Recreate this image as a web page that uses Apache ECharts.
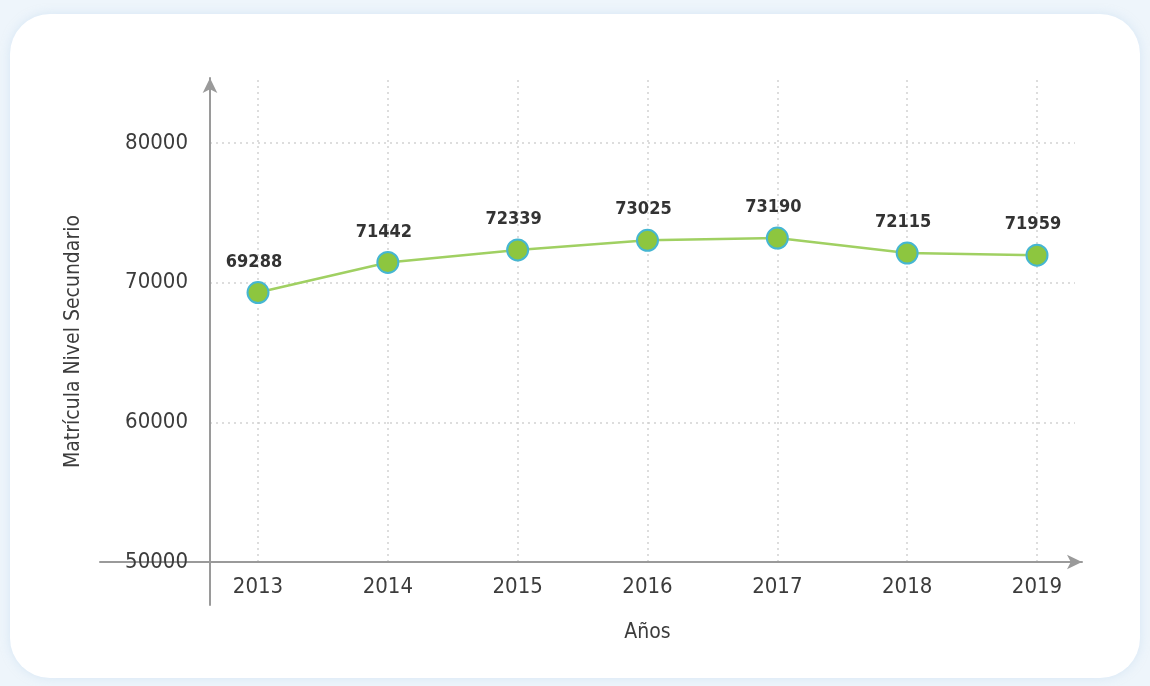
<!DOCTYPE html>
<html>
<head>
<meta charset="utf-8">
<script src="https://cdn.jsdelivr.net/npm/echarts@6/dist/echarts.min.js"></script>
<style>
  html, body { margin: 0; padding: 0; width: 1150px; height: 686px; background: #eef5fb; overflow: hidden; }
  #card { position: absolute; left: 10px; top: 14px; width: 1130px; height: 664px; background: #fff;
          border-radius: 40px; box-shadow: 0 0 10px rgba(190, 215, 240, 0.5); }
  #chart { position: absolute; left: 0; top: 0; width: 1150px; height: 686px; }
</style>
</head>
<body>
<div id="card"></div>
<div id="chart"></div>
<script>
const years = ['2013', '2014', '2015', '2016', '2017', '2018', '2019'];
const matricula = [69288, 71442, 72339, 73025, 73190, 72115, 71959];
const yTicks = [50000, 60000, 70000, 80000];
const yTop = 84500; // top of the plot area (no label)

const font = "'Liberation Sans Narrow', 'DejaVu Sans Condensed', sans-serif";
const axisGray = '#9a9a9a';
const textColor = '#3c3c3c';
const dotted = { type: [2, 4], color: '#d2d2d2', width: 1.5 };

var chart = echarts.init(document.getElementById('chart'), null, { renderer: 'canvas' });

var option = {
  textStyle: { fontFamily: font },
  grid: [
    // 0: data
    { left: 258, right: 113, top: 80, bottom: 124 },
    // 1: horizontal grid lines + y labels
    { left: 210, right: 75, top: 143, bottom: 124 },
    // 2: axis lines with arrows
    { left: 100, right: 68, top: 78, bottom: 81 }
  ],
  xAxis: [
    {
      gridIndex: 0,
      type: 'category',
      data: years,
      boundaryGap: false,
      axisLine: { show: false },
      axisTick: { show: false },
      axisLabel: { fontSize: 22, color: textColor, margin: 14, fontFamily: font },
      splitLine: { show: true, lineStyle: dotted },
      name: 'Años',
      nameLocation: 'middle',
      nameGap: 60,
      nameTextStyle: { fontSize: 21, color: textColor, fontFamily: font }
    },
    { gridIndex: 1, type: 'value', show: false },
    {
      gridIndex: 2,
      type: 'value',
      min: 0,
      max: 1,
      offset: -43,
      axisLine: {
        show: true,
        onZero: false,
        symbol: ['none', 'arrow'],
        symbolSize: [11, 15],
        lineStyle: { color: axisGray, width: 2 }
      },
      axisTick: { show: false },
      axisLabel: { show: false },
      splitLine: { show: false }
    }
  ],
  yAxis: [
    { gridIndex: 0, type: 'value', min: yTicks[0], max: yTop, show: false },
    {
      gridIndex: 1,
      type: 'value',
      min: yTicks[0],
      max: yTicks[yTicks.length - 1],
      interval: yTicks[1] - yTicks[0],
      axisLine: { show: false },
      axisTick: { show: false },
      axisLabel: {
        fontSize: 22,
        color: textColor,
        margin: 22,
        fontFamily: font,
        formatter: function (v) { return String(v); }
      },
      splitLine: { show: true, lineStyle: dotted }
    },
    {
      gridIndex: 2,
      type: 'value',
      min: 0,
      max: 1,
      offset: -110,
      axisLine: {
        show: true,
        onZero: false,
        symbol: ['none', 'arrow'],
        symbolSize: [11, 15],
        lineStyle: { color: axisGray, width: 2 }
      },
      axisTick: { show: false },
      axisLabel: { show: false },
      splitLine: { show: false },
      name: 'Matrícula Nivel Secundario',
      nameLocation: 'middle',
      nameGap: 126,
      nameTextStyle: { fontSize: 21, color: textColor, fontFamily: font }
    }
  ],
  series: [
    {
      name: 'Matrícula',
      type: 'line',
      xAxisIndex: 0,
      yAxisIndex: 0,
      data: matricula,
      symbol: 'circle',
      symbolSize: 21,
      itemStyle: { color: '#8dc63f', borderColor: '#45b6d2', borderWidth: 2 },
      lineStyle: { color: '#a0d062', width: 2.5 },
      label: {
        show: true,
        position: 'top',
        distance: 10,
        offset: [-4, 0],
        fontSize: 18,
        fontWeight: 'bold',
        color: '#333',
        fontFamily: font
      },
      z: 5
    }
  ],
  animation: false
};

chart.setOption(option);
</script>
</body>
</html>
